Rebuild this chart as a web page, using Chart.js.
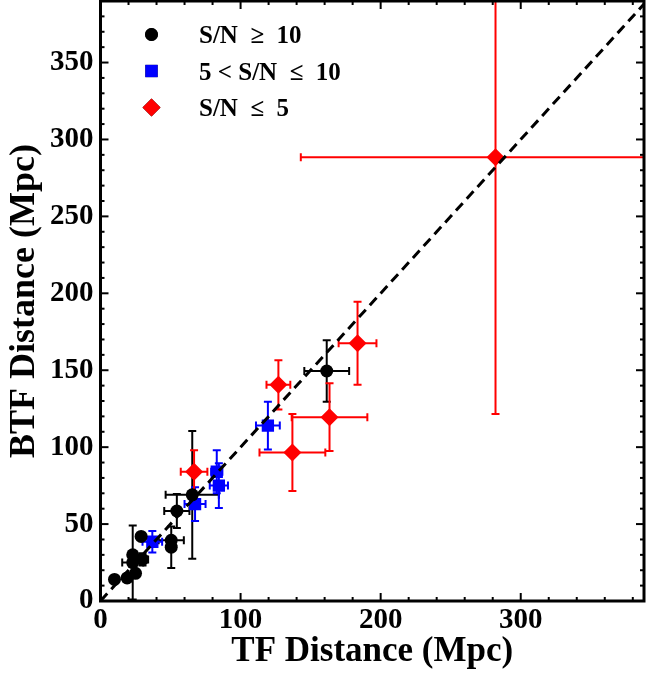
<!DOCTYPE html>
<html><head><meta charset="utf-8">
<script src="https://cdn.jsdelivr.net/npm/chart.js@4/dist/chart.umd.min.js"></script>
<style>html,body{margin:0;padding:0;background:#fff;}#wrap{width:646px;height:677px;position:relative;}</style>
</head><body><div id="wrap"><canvas id="c" width="646" height="677"></canvas></div>
<script>
// ---- data ----
const seriesLabels = ['S/N  \u2265  10', '5 < S/N  \u2264  10', 'S/N  \u2264  5'];

const highX = [10, 19, 25, 23, 23, 30, 29, 50.5, 50.5, 54.5, 65.5, 161.5];
const highY = [14, 15, 18, 30, 25, 27, 42, 39.5, 35, 58.5, 69, 149.5];
const highXErr = [0, 0, 0, 0, 7.5, 4, 0, 9, 0, 9, 19, 16];
const highYErr = [0, 0, 0, 0, 24, 4, 0, 0, 13.5, 11, 41.5, 20];

const midX = [37, 67.5, 83, 84.5, 119.5];
const midY = [38.5, 63, 84, 75, 114];
const midXErr = [7, 7.5, 4, 6.5, 8.5];
const midYErr = [7, 11, 14, 14.5, 15.5];

const lowX = [66.8, 127, 137, 163.5, 183.5, 282];
const lowY = [84, 140.5, 96.5, 119.5, 167.5, 288.5];
const lowXErr = [9.5, 8.5, 23.5, 27, 13.5, 139];
const lowYErr = [14, 16, 25, 22, 27, 167];

const oneToOneX = [0, 390];
const oneToOneY = [0, 390];

const xTickValues = [0, 100, 200, 300];
const yTickValues = [0, 50, 100, 150, 200, 250, 300, 350];
const xMinorStep = 20;
const yMinorStep = 10;
const xMax = 388;
const yMax = 390;

// ---- helpers ----
const pts = (xs, ys) => xs.map((v, i) => ({x: v, y: ys[i]}));
const FONT = "'Liberation Serif', 'Times New Roman', serif";

const errorBars = {
  id: 'errorBars',
  beforeDatasetsDraw(chart) {
    const {ctx, chartArea: a, scales: {x: xs, y: ys}} = chart;
    ctx.save();
    ctx.beginPath(); ctx.rect(a.left, a.top, a.right - a.left, a.bottom - a.top); ctx.clip();
    const seg = (x1, y1, x2, y2) => { ctx.beginPath(); ctx.moveTo(x1, y1); ctx.lineTo(x2, y2); ctx.stroke(); };
    chart.data.datasets.forEach(ds => {
      if (!ds.errX) return;
      ctx.strokeStyle = ds.backgroundColor; ctx.lineWidth = 2;
      const cap = 4;
      ds.data.forEach((p, i) => {
        const px = xs.getPixelForValue(p.x), py = ys.getPixelForValue(p.y);
        const ex = ds.errX[i], ey = ds.errY[i];
        if (ex > 0) {
          const x1 = xs.getPixelForValue(p.x - ex), x2 = xs.getPixelForValue(p.x + ex);
          seg(x1, py, x2, py); seg(x1, py - cap, x1, py + cap); seg(x2, py - cap, x2, py + cap);
        }
        if (ey > 0) {
          const y1 = ys.getPixelForValue(p.y - ey), y2 = ys.getPixelForValue(p.y + ey);
          seg(px, y1, px, y2); seg(px - cap, y1, px + cap, y1); seg(px - cap, y2, px + cap, y2);
        }
      });
    });
    ctx.restore();
  }
};

const frameTicks = {
  id: 'frameTicks',
  afterDraw(chart) {
    const {ctx, chartArea: a, scales: {x: xs, y: ys}} = chart;
    ctx.save();
    ctx.strokeStyle = '#000';
    ctx.lineWidth = 2;
    const seg = (x1, y1, x2, y2) => { ctx.beginPath(); ctx.moveTo(x1, y1); ctx.lineTo(x2, y2); ctx.stroke(); };
    for (let v = 0; v <= xMax; v += xMinorStep) {
      const len = xTickValues.includes(v) ? 8 : 4;
      const px = xs.getPixelForValue(v);
      seg(px, a.bottom, px, a.bottom - len); seg(px, a.top, px, a.top + len);
    }
    for (let v = 0; v <= yMax; v += yMinorStep) {
      const len = yTickValues.includes(v) ? 8 : 4;
      const py = ys.getPixelForValue(v);
      seg(a.left, py, a.left + len, py); seg(a.right, py, a.right - len, py);
    }
    ctx.lineWidth = 3;
    ctx.strokeRect(a.left, a.top, a.right - a.left, a.bottom - a.top);
    ctx.restore();
  }
};

const customLegend = {
  id: 'customLegend',
  afterDraw(chart) {
    const {ctx} = chart;
    ctx.save();
    const markerY = [34.5, 71, 107.5];
    const baseY = [43.3, 80, 116];
    chart.data.datasets.slice(0, 3).forEach((ds, i) => {
      Chart.helpers.drawPoint(ctx, {pointStyle: ds.pointStyle, radius: ds.pointRadius, rotation: 0, borderWidth: 0}, 151.5, markerY[i]);
      ctx.fillStyle = ds.backgroundColor; ctx.fill();
      ctx.fillStyle = '#000';
      ctx.font = "bold 25px " + FONT;
      ctx.textBaseline = 'alphabetic';
      ctx.fillText(ds.label, 199, baseY[i]);
    });
    ctx.restore();
  }
};

const mk = (label, xs, ys, exs, eys, color, style, r) => ({
  type: 'scatter', label, data: pts(xs, ys), errX: exs, errY: eys,
  backgroundColor: color, borderColor: color, borderWidth: 0,
  pointStyle: style, pointRadius: r, pointHoverRadius: r, order: 1
});

const zeroPad = s => { s.paddingTop = 0; s.paddingBottom = 0; s.paddingLeft = 0; s.paddingRight = 0; };

new Chart(document.getElementById('c'), {
  type: 'scatter',
  data: {
    datasets: [
      mk(seriesLabels[0], highX, highY, highXErr, highYErr, '#000000', 'circle', 6.5),
      mk(seriesLabels[1], midX, midY, midXErr, midYErr, '#0000ff', 'rect', 8.7),
      mk(seriesLabels[2], lowX, lowY, lowXErr, lowYErr, '#ff0000', 'rectRot', 9),
      {type: 'line', label: '1:1', data: pts(oneToOneX, oneToOneY), borderColor: '#000', borderWidth: 3,
       borderDash: [10, 6], pointRadius: 0, fill: false, order: 0}
    ]
  },
  options: {
    responsive: false, animation: false,
    layout: {autoPadding: false, padding: {top: 1, right: 2, left: 0, bottom: 0}},
    plugins: {legend: {display: false}, tooltip: {enabled: false}},
    scales: {
      x: {
        type: 'linear', min: 0, max: xMax,
        afterBuildTicks: s => { s.ticks = xTickValues.map(v => ({value: v})); },
        afterFit: s => { s.height = 76; zeroPad(s); },
        grid: {display: false, drawTicks: false}, border: {display: false},
        ticks: {color: '#000', font: {family: FONT, size: 29, weight: 'bold'}, padding: 2, maxRotation: 0, autoSkip: false},
        title: {display: true, text: 'TF Distance (Mpc)', color: '#000', font: {family: FONT, size: 35, weight: 'bold'}, padding: {top: 0, bottom: 4}}
      },
      y: {
        type: 'linear', min: 0, max: yMax,
        afterBuildTicks: s => { s.ticks = yTickValues.map(v => ({value: v})); },
        afterFit: s => { s.width = 100.5; zeroPad(s); },
        grid: {display: false, drawTicks: false}, border: {display: false},
        ticks: {color: '#000', font: {family: FONT, size: 29, weight: 'bold'}, padding: 7, autoSkip: false},
        title: {display: true, text: 'BTF Distance (Mpc)', color: '#000', font: {family: FONT, size: 36, weight: 'bold'}, padding: {top: 3, bottom: 0}}
      }
    }
  },
  plugins: [errorBars, frameTicks, customLegend]
});
</script></body></html>
